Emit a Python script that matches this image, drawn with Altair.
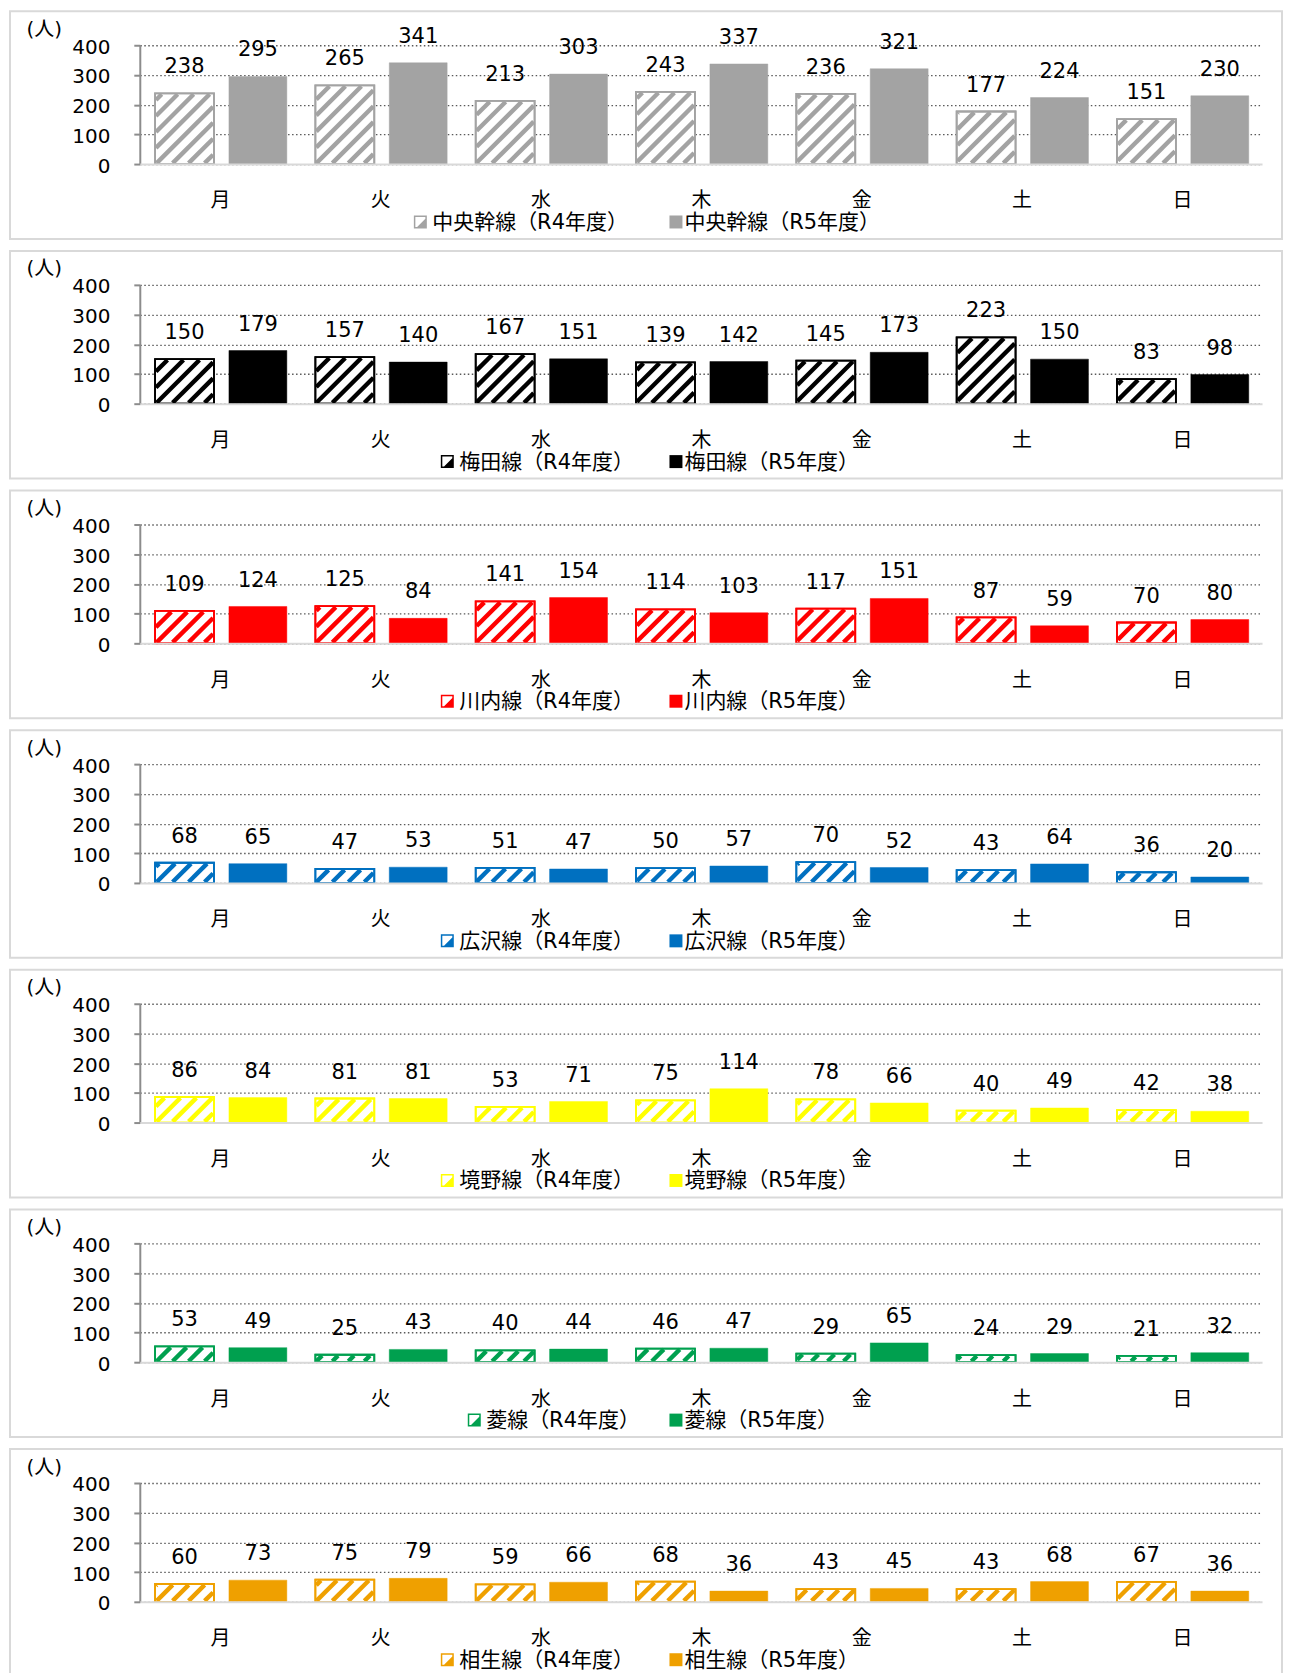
import math
import altair as alt
import pandas as pd

# ---------------- data ----------------
days = ["月", "火", "水", "木", "金", "土", "日"]
line_names = ["中央幹線", "梅田線", "川内線", "広沢線", "境野線", "菱線", "相生線"]

chuo_r4 = [238, 265, 213, 243, 236, 177, 151]
chuo_r5 = [295, 341, 303, 337, 321, 224, 230]
umeda_r4 = [150, 157, 167, 139, 145, 223, 83]
umeda_r5 = [179, 140, 151, 142, 173, 150, 98]
kawauchi_r4 = [109, 125, 141, 114, 117, 87, 70]
kawauchi_r5 = [124, 84, 154, 103, 151, 59, 80]
hirosawa_r4 = [68, 47, 51, 50, 70, 43, 36]
hirosawa_r5 = [65, 53, 47, 57, 52, 64, 20]
sakaino_r4 = [86, 81, 53, 75, 78, 40, 42]
sakaino_r5 = [84, 81, 71, 114, 66, 49, 38]
hishi_r4 = [53, 25, 40, 46, 29, 24, 21]
hishi_r5 = [49, 43, 44, 47, 65, 29, 32]
aioi_r4 = [60, 75, 59, 68, 43, 43, 67]
aioi_r5 = [73, 79, 66, 36, 45, 68, 36]

line_colors = ["#a3a3a3", "#000000", "#ff0000", "#0070c0", "#ffff00", "#00a04f", "#efa000"]

r4_series = [chuo_r4, umeda_r4, kawauchi_r4, hirosawa_r4, sakaino_r4, hishi_r4, aioi_r4]
r5_series = [chuo_r5, umeda_r5, kawauchi_r5, hirosawa_r5, sakaino_r5, hishi_r5, aioi_r5]

# ---------------- layout / style ----------------
W, H = 1124, 119
STEP = W / 7
PY = H / 400
R4_PX = (-65.0, -6.0)
R5_PX = (9.0, 67.0)
HATCH_P = 16.0
HATCH_W = 4.4
INSET = 0.9

FONT = "DejaVu Sans, Noto Sans CJK JP"
HATCH_PATH = "M-1,-1H1V1H-1Z M-0.77,-0.77V0.77H0.77V-0.77Z M0.77,-0.5V0.77H-0.5Z"

SX = alt.Scale(domain=[-0.5, 6.5], nice=False, zero=False)
SY = alt.Scale(domain=[0, 400], nice=False)

label_expr = "[" + ",".join("'" + d + "'" for d in days) + "][datum.value]"

AX = alt.Axis(
    values=list(range(7)), labelExpr=label_expr, grid=False, ticks=False,
    domain=True, domainColor="#d9d9d9", domainWidth=2,
    labelFont=FONT, labelFontSize=20, labelColor="#000000",
    labelPadding=27, labelBaseline="top", labelFlush=False, labelOverlap=False,
    title=None, zindex=1,
)
AY = alt.Axis(
    values=[0, 100, 200, 300, 400], grid=True, gridColor="#595959",
    gridDash=[1.5, 2.5], gridWidth=1.3,
    domainColor="#8c8c8c", domainWidth=2, tickColor="#8c8c8c", tickWidth=2, tickSize=6,
    labelFont=FONT, labelFontSize=20, labelColor="#000000", labelPadding=24, labelOffset=2,
    title="(人)", titleAngle=0, titleAlign="left", titleBaseline="middle",
    titleX=-114, titleY=-16, titleFont=FONT, titleFontSize=20,
    titleFontWeight="normal", titleColor="#000000",
)


def X(f):
    return alt.X(f, type="quantitative", scale=SX, axis=AX)


def Y(f):
    return alt.Y(f, type="quantitative", scale=SY, axis=AY)


one = pd.DataFrame({"o": [0]})


def panel(name, v4, v5, color):
    s4 = name + "（R4年度）"
    s5 = name + "（R5年度）"
    rows = []
    for i in range(len(days)):
        for kind, v, off in (("R4", v4[i], R4_PX), ("R5", v5[i], R5_PX)):
            x0 = i + off[0] / STEP
            x1 = i + off[1] / STEP
            rows.append({"day": days[i], "kind": kind, "v": v,
                         "x0": x0, "x1": x1, "xc": (x0 + x1) / 2})
    df = pd.DataFrame(rows)
    df4 = df[df["kind"] == "R4"]
    df5 = df[df["kind"] == "R5"]

    # diagonal hatch segments clipped to each R4 bar (pixel space, mapped back to data units)
    segs = []
    for i, v in enumerate(v4):
        cx = (i + 0.5) * STEP
        xa = cx + R4_PX[0] + INSET
        xb = cx + R4_PX[1] - INSET
        ylo = INSET
        yhi = v * PY - INSET
        if yhi <= ylo:
            continue
        k0 = math.floor((xa - yhi) / HATCH_P) - 1
        k1 = math.ceil((xb - ylo) / HATCH_P) + 1
        for k in range(k0, k1 + 1):
            c = k * HATCH_P
            lo = max(xa, c + ylo)
            hi = min(xb, c + yhi)
            if hi - lo > 0.2:
                segs.append({"sx0": lo / STEP - 0.5, "sy0": (lo - c) / PY,
                             "sx1": hi / STEP - 0.5, "sy1": (hi - c) / PY})
    dseg = pd.DataFrame(segs)

    box = alt.Chart(one).mark_rect(fillOpacity=0, stroke="#d9d9d9", strokeWidth=2).encode(
        x=alt.value(-130), x2=alt.value(1144), y=alt.value(-34), y2=alt.value(194))

    solid = alt.Chart(df5).mark_rect(fill=color, stroke=color, strokeOpacity=0.45, strokeWidth=1).encode(
        x=X("x0"), x2=alt.X2("x1"), y=Y("v"), y2=alt.datum(0))

    white = alt.Chart(df4).mark_rect(fill="white", stroke=color, strokeWidth=1.8).encode(
        x=X("x0"), x2=alt.X2("x1"), y=Y("v"), y2=alt.datum(0))

    hatch = alt.Chart(dseg).mark_rule(color=color, strokeWidth=HATCH_W).encode(
        x=X("sx0"), x2=alt.X2("sx1"), y=Y("sy0"), y2=alt.Y2("sy1"))

    outline = alt.Chart(df4).mark_rect(fillOpacity=0, stroke=color, strokeWidth=1.8).encode(
        x=X("x0"), x2=alt.X2("x1"), y=Y("v"), y2=alt.datum(0))

    labels = alt.Chart(df).mark_text(font=FONT, fontSize=21, baseline="alphabetic", dy=-20,
                                     color="#000000").encode(
        x=X("xc"), y=Y("v"), text=alt.Text("v:Q"))

    # manual legend (page x positions -> plot-relative)
    n = len(name)
    s1 = 420 + 27 * (4 - n) - 139
    s2 = 676 - 139
    ly = 177
    leg = [
        alt.Chart(one).mark_point(shape=HATCH_PATH, size=169, filled=True, fill=color,
                                  strokeWidth=0, opacity=1).encode(x=alt.value(s1), y=alt.value(ly)),
        alt.Chart(one).mark_point(shape="square", size=169, filled=True, fill=color,
                                  strokeWidth=0, opacity=1).encode(x=alt.value(s2), y=alt.value(ly)),
        alt.Chart(one).mark_text(text=s4, align="left", baseline="middle", font=FONT, fontSize=21,
                                 color="#000000").encode(x=alt.value(s1 + 12), y=alt.value(ly + 1)),
        alt.Chart(one).mark_text(text=s5, align="left", baseline="middle", font=FONT, fontSize=21,
                                 color="#000000").encode(x=alt.value(s2 + 8.5), y=alt.value(ly + 1)),
    ]

    return alt.layer(box, solid, white, hatch, outline, labels, *leg).properties(width=W, height=H)


panels = [panel(nm, a, b, c) for nm, a, b, c in zip(line_names, r4_series, r5_series, line_colors)]

chart = alt.vconcat(*panels, spacing=8).properties(padding=0).configure_view(stroke="transparent")

chart.save("out.html", embed_options={"renderer": "svg", "actions": False})
